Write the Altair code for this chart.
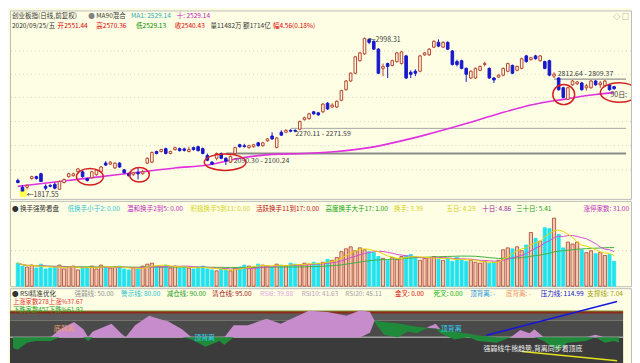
import altair as alt
import pandas as pd

# ---------------- data ----------------
opens = [1899,1847,1847,1914,1929,1951,1855,1862,1870,1832,
         1884,1929,1936,1966,1966,1914,1921,1944,1966,2033,
         2025,1996,2033,1981,1951,1944,1959,1951,2033,2040,
         2122,2122,2144,2107,2137,2144,2142,2122,2152,2159,
         2144,2092,2040,2070,2107,2070,2040,2107,2174,2166,
         2152,2159,2189,2167,2204,2241,2152,2270,2270,2285,
         2284,2293,2367,2375,2427,2419,2427,2493,2464,2464,
         2516,2597,2664,2724,2820,2872,2984,2969,2909,2761,
         2798,2783,2813,2798,2857,2731,2739,2739,2865,2865,
         2924,2961,2924,2961,2895,2813,2820,2761,2687,2687,
         2746,2791,2761,2687,2694,2709,2739,2783,2746,2761,
         2857,2828,2857,2820,2813,2820,2701,2687,2612,2523,
         2635,2642,2649,2612,2612,2664,2635,2627,2635,2620]
highs = [1914,1862,1870,1936,1936,1959,1870,1870,1884,1899,
         1914,1959,1959,1996,1974,1921,1974,1988,2011,2048,
         2048,2040,2040,1988,1959,1966,2003,1981,2078,2122,
         2129,2144,2152,2129,2159,2152,2152,2159,2159,2167,
         2152,2107,2048,2115,2115,2078,2092,2159,2181,2181,
         2174,2181,2196,2196,2226,2270,2233,2285,2293,2293,
         2293,2360,2389,2419,2434,2427,2493,2501,2493,2516,
         2597,2672,2731,2857,2887,2998.31,2995,2976,2917,2798,
         2805,2828,2887,2895,2865,2746,2754,2865,2887,2917,
         2976,2984,2969,2969,2902,2828,2828,2768,2746,2768,
         2783,2813,2768,2694,2716,2768,2805,2791,2783,2843,
         2865,2850,2865,2865,2820,2828,2731,2694,2620,2620,
         2672,2664,2657,2642,2672,2672,2664,2672,2642,2627]
lows = [1877,1817.55,1832,1907,1907,1890,1825,1847,1832,1830,
        1877,1921,1929,1959,1921,1892,1914,1936,1959,2011,
        2018,1988,1996,1951,1929,1936,1907,1944,2025,2033,
        2100,2115,2100,2100,2129,2122,2122,2115,2129,2122,
        2100,2048,2018,2055,2063,2018,2033,2100,2152,2152,
        2144,2152,2159,2159,2196,2211,2150,2241,2263,2270,
        2270,2285,2360,2367,2404,2397,2419,2441,2456,2456,
        2508,2590,2657,2716,2813,2865,2947,2902,2716,2701,
        2687,2776,2805,2791,2679,2687,2701,2731,2857,2857,
        2917,2924,2917,2902,2783,2776,2754,2657,2679,2679,
        2739,2776,2679,2649,2687,2701,2731,2716,2739,2754,
        2805,2820,2828,2813,2754,2701,2687,2590,2531,2520,
        2627,2635,2590,2590,2605,2627,2612,2620,2590,2597]
closes = [1884,1818,1862,1929,1914,1892,1840,1855,1840,1892,
          1907,1951,1951,1988,1929,1899,1966,1981,2003,2018,
          2040,2033,2003,1959,1936,1959,1951,1966,2070,2115,
          2107,2137,2107,2122,2152,2129,2131,2137,2137,2129,
          2107,2055,2025,2107,2070,2048,2085,2152,2159,2160,
          2167,2174,2167,2189,2219,2219,2226,2248,2285,2278,
          2279,2352,2382,2412,2412,2404,2486,2449,2479,2508,
          2590,2664,2724,2850,2880,2991,2961,2909,2724,2776,
          2776,2820,2880,2887,2687,2716,2724,2857,2880,2909,
          2969,2932,2961,2909,2791,2791,2761,2716,2739,2761,
          2776,2798,2687,2672,2709,2761,2798,2724,2776,2835,
          2813,2843,2835,2857,2761,2709,2716,2597,2538,2612,
          2664,2657,2597,2627,2664,2635,2649,2664,2597,2605]
volumes = [10600,9270,8830,9720,8390,10160,7950,8390,8830,9720,
           7950,8830,9270,7510,8390,8830,9270,7950,9720,8830,
           8390,8830,9270,7950,7510,8390,7950,9270,10160,10600,
           9270,8830,9720,8390,9270,8390,8830,8390,7950,8830,
           9270,7950,7510,7070,7950,7510,7070,8390,8830,9720,
           9270,8830,10160,9720,9270,8830,10160,9720,9270,10600,
           10160,9720,10600,10160,11040,10600,11040,12360,11920,13250,
           15900,17220,18110,16340,17660,16780,15900,15460,13690,12810,
           11920,13250,12360,13690,14130,14570,13250,11920,12810,13250,
           13690,12360,11920,12810,11480,13250,12360,11480,11920,11040,
           10600,11480,10600,11040,11920,16780,17660,17220,18110,16340,
           18990,24730,22080,20760,26940,26500,31350,23850,17660,20310,
           19430,20310,16780,15460,16340,15010,15460,14130,14570,11482]

ma90_idx = [0, 9, 18, 27, 34, 41, 48, 55, 62, 69, 76, 83, 88, 97, 104, 111, 118, 125, 129]
ma90_val = [1854, 1892, 1929, 1966, 1996, 2018, 2070, 2100, 2107, 2122, 2152, 2204,
            2248, 2337, 2412, 2479, 2523, 2560, 2575]

level_start = [45, 59, 116]
level_price = [2107, 2300, 2679]
level_text = ["2090.30 - 2100.24", "2270.11 - 2271.59", "2812.64 - 2809.37"]

grid_prices = [2895, 2716, 2538, 2352, 2167, 1981]

rsi_idx = [0, 1, 3, 5, 8, 10, 13, 15, 16, 17, 21, 23, 24, 26, 29, 31, 33, 36, 38, 41,
           44, 45, 47, 50, 54, 57, 63, 67, 71, 74, 76, 77, 79, 82, 84, 86, 88, 90, 91, 94,
           97, 99, 103, 106, 108, 110, 111, 113, 116, 118, 122, 124, 126, 128, 129]
rsi_fast = [30, 26.8, 39.9, 42.8, 42.8, 64.5, 77.6, 64.5, 42.8, 60.2, 74.7, 57.3, 50, 71.8,
            89.2, 83.4, 79, 64.5, 45.7, 32.6, 42.8, 35.5, 71.8, 71.8, 83.4, 74.7, 98, 96,
            89.2, 99, 96, 77.6, 54.4, 50, 60.2, 57.3, 66, 74.7, 57.3, 45.7, 50, 42.8, 39.9,
            50, 63, 57.3, 64.5, 42.8, 25.4, 39.9, 42.8, 54.4, 39.9, 42.8, 39.88]
rsi_base = [50] * 30 + [58, 80, 77.6, 75, 72, 69, 67, 66, 64, 60, 56, 53, 50] + [50] * 12

# ---------------- texts ----------------
main_line1 = ["创业板指(日线,前复权)", "●", "MA90混合", "MA1: 2529.14", "十: 2529.14"]
main_line2 = ["2020/09/25/五", "开2551.44", "高2570.36", "低2529.13", "收2540.43",
              "量11482万", "额1714亿", "幅4.56(0.18%)"]
vol_header = ["● 换手强势看盘", "低换手小于2: 0.00", "温和换手2到5: 0.00", "积极换手5到11: 0.00",
              "活跃换手11到17: 0.00", "高度换手大于17: 1.00", "换手: 3.39", "五日: 4.29",
              "十日: 4.86", "三十日: 5.41", "涨停家数: 31.00"]
rsi_header = ["● RSI精准优化", "强弱线: 50.00", "警示线: 80.00", "减仓线: 90.00", "清仓线: 95.00",
              "RSI6: 39.88", "RSI10: 41.63", "RSI20: 45.11", "金叉: 0.00", "死叉: 0.00",
              "顶背离: -", "底背离: -", "压力线: 114.99", "支撑线: 7.04"]
breadth_up = "上涨家数278上涨%37.67"
breadth_down = "下跌家数457下跌%61.92"

# ---------------- layout & style ----------------
FONT = "Noto Sans CJK SC"
BG = "#FEFEE4"
UP = "#B8452F"
DOWN = "#1818CC"
W = 626
H_MAIN, H_VOL, H_RSI = 190, 86, 76
XD = [-0.632, 131.58]
xsc = alt.Scale(domain=XD, nice=False, zero=False)
psc = alt.Scale(domain=[1757.8, 3206.6], nice=False, zero=False)
vsc = alt.Scale(domain=[0, 39300], nice=False, zero=False)
rsc = alt.Scale(domain=[1.74, 139.4], nice=False, zero=False)


def X(f):
    return alt.X(f, type="quantitative", scale=xsc, axis=None)


def Y(f, s):
    return alt.Y(f, type="quantitative", scale=s, axis=None)


def header(texts, xs, colors, y, size=6.6):
    d = pd.DataFrame({"t": texts, "px": xs, "c": colors})
    return alt.Chart(d).mark_text(align="left", baseline="middle", font=FONT, fontSize=size).encode(
        x=alt.X("px:Q", scale=None), y=alt.value(y), text="t:N", color=alt.Color("c:N", scale=None))


def ellipse_path(r):
    k = 0.5523
    return (f"M-1,0C-1,{-k*r:.3f} {-k:.3f},{-r:.3f} 0,{-r:.3f}"
            f"C{k:.3f},{-r:.3f} 1,{-k*r:.3f} 1,0"
            f"C1,{k*r:.3f} {k:.3f},{r:.3f} 0,{r:.3f}"
            f"C{-k:.3f},{r:.3f} -1,{k*r:.3f} -1,0Z")


df = pd.DataFrame({"idx": list(range(len(opens))), "open": opens, "high": highs,
                   "low": lows, "close": closes, "vol": volumes})
df["dir"] = ["up" if c >= o else "down" for o, c in zip(opens, closes)]

dir_dom = ["up", "down"]

# ---------------- main panel ----------------
grid = alt.Chart(pd.DataFrame({"p": grid_prices})).mark_rule(
    color="#D2D2C0", strokeDash=[1, 3], strokeWidth=1).encode(y=Y("p", psc))

level_styles = [("#8A8A8A", 2.0), ("#A4A4A4", 1.0), ("#939393", 1.2)]
levels = []
for s, p, (c, w) in zip(level_start, level_price, level_styles):
    levels.append(alt.Chart(pd.DataFrame({"s": [s], "e": [XD[1]], "p": [p]})).mark_rule(
        color=c, strokeWidth=w).encode(x=X("s"), x2="e", y=Y("p", psc)))

ma = alt.Chart(pd.DataFrame({"idx": ma90_idx, "v": ma90_val})).mark_line(
    color="#E030E0", strokeWidth=1.6, interpolate="monotone").encode(x=X("idx"), y=Y("v", psc))

hl = alt.Chart(pd.DataFrame({"x0": [0.4], "x1": [1.9], "p0": [1773], "p1": [1832]})).mark_rect(
    color="#FFFF33", opacity=0.85).encode(x=X("x0"), x2="x1", y=Y("p0", psc), y2="p1")

wicks = alt.Chart(df).mark_rule(strokeWidth=1).encode(
    x=X("idx"), y=Y("low", psc), y2="high",
    color=alt.Color("dir:N", scale=alt.Scale(domain=dir_dom, range=[UP, DOWN]), legend=None))

bodies = alt.Chart(df).mark_bar(size=2.6, strokeWidth=1).encode(
    x=X("idx"), y=Y("open", psc), y2="close",
    fill=alt.Fill("dir:N", scale=alt.Scale(domain=dir_dom, range=[BG, DOWN]), legend=None),
    stroke=alt.Stroke("dir:N", scale=alt.Scale(domain=dir_dom, range=[UP, DOWN]), legend=None))

lab_idx = [46.7, 60.0, 116.8, 75.9, 1.9, 128.2]
lab_price = [2047, 2256, 2716, 2976, 1787, 2560]
lab_text = level_text + ["←2998.31", "←1817.55", "90日:"]
labels = alt.Chart(pd.DataFrame({"i": lab_idx, "p": lab_price, "t": lab_text})).mark_text(
    align="left", baseline="middle", font=FONT, fontSize=7, color="#3A3A3A", clip=True).encode(
    x=X("i"), y=Y("p", psc), text="t:N")

ell_idx = [15.58, 26.3, 44.84, 118.1, 130.1]
ell_price = [1928.6, 1943.5, 2040.1, 2560.2, 2575.1]
ell_rx = [13.5, 10, 21, 11, 19]
ell_ry = [8.3, 7.3, 8.3, 10.2, 9.8]
ellipses = []
for i, p, rx, ry in zip(ell_idx, ell_price, ell_rx, ell_ry):
    ellipses.append(alt.Chart(pd.DataFrame({"i": [i], "p": [p]})).mark_point(
        shape=ellipse_path(ry / rx), size=(2 * rx) ** 2, filled=False, color="#D42020",
        strokeWidth=1.5, opacity=1, clip=True).encode(x=X("i"), y=Y("p", psc)))

h1 = header(main_line1, [2, 79, 87, 122, 168], ["#333333", "#808080", "#333333", "#2AAAB0", "#C020C0"], 5.8)
h2 = header(main_line2, [2, 48, 87, 127, 166, 202, 235, 265],
            ["#333333", "#E00000", "#E00000", "#008800", "#E00000", "#333333", "#333333", "#E00000"], 15.6)
icons = header(["◇", "□"], [608, 617], ["#777777", "#777777"], 6.5, 7)

main = alt.layer(grid, *levels, ma, hl, wicks, bodies, labels, *ellipses, h1, h2, icons).properties(
    width=W, height=H_MAIN)

# ---------------- volume panel ----------------
vgrid = alt.Chart(pd.DataFrame({"v": [16340]})).mark_rule(
    color="#CFCFBE", strokeDash=[1, 3]).encode(y=Y("v", vsc))
vbars = alt.Chart(df).mark_bar(size=3.2, strokeWidth=0.8).encode(
    x=X("idx"), y=Y("vol", vsc),
    fill=alt.Fill("dir:N", scale=alt.Scale(domain=dir_dom, range=["#F6C9B3", "#22E2EE"]), legend=None),
    stroke=alt.Stroke("dir:N", scale=alt.Scale(domain=dir_dom, range=["#A8402C", "#22E2EE"]), legend=None))


def vma(n, color):
    return alt.Chart(df).transform_window(
        m="mean(vol)", frame=[-(n - 1), 0], sort=[{"field": "idx"}]).mark_line(
        color=color, strokeWidth=1).encode(x=X("idx"), y=Y("m", vsc))


vh = header(vol_header, [2, 58, 118, 182, 248, 318, 387, 440, 476, 510, 578],
            ["#333333", "#30C4D4", "#C030C0", "#D4D420", "#C01010", "#10A010", "#D8D020",
             "#D8D020", "#A020A0", "#20A020", "#C030C0"], 7.7)
vol = alt.layer(vgrid, vbars, vma(30, "#40B040"), vma(10, "#D050D0"), vma(5, "#E6D600"), vh).properties(
    width=W, height=H_VOL)

# ---------------- RSI panel ----------------
bands = pd.DataFrame({"x0": [XD[0]] * 3, "x1": [129.9] * 3, "v0": [95, 80, 50], "v1": [80, 50, 1.74],
                      "c": ["#5B5B5B", "#4A4A4A", "#3B3B3B"]})
rbg = alt.Chart(bands).mark_rect().encode(
    x=X("x0"), x2="x1", y=Y("v0", rsc), y2="v1", color=alt.Color("c:N", scale=None))


def hline(v, color, w):
    return alt.Chart(pd.DataFrame({"x0": [XD[0]], "x1": [129.9], "v": [v]})).mark_rule(
        color=color, strokeWidth=w).encode(x=X("x0"), x2="x1", y=Y("v", rsc))


rdf = pd.DataFrame({"idx": rsi_idx, "a": rsi_fast, "b": rsi_base})
lav = alt.Chart(rdf).transform_calculate(top="max(datum.a, datum.b)").mark_area(
    color="#C68CCB", opacity=1).encode(x=X("idx"), y=Y("top:Q", rsc), y2="b")
grn = alt.Chart(rdf).transform_calculate(bot="min(datum.a, datum.b)").mark_area(
    color="#1F8A3A", opacity=1).encode(x=X("idx"), y=Y("b", rsc), y2="bot:Q")

press = alt.Chart(pd.DataFrame({"i": [100.8, 128.6], "v": [53.5, 114.99]})).mark_line(
    color="#1414E0", strokeWidth=1.5).encode(x=X("i"), y=Y("v", rsc))
supp = alt.Chart(pd.DataFrame({"i": [108.4, 128.6], "v": [24, 7.04]})).mark_line(
    color="#E4E020", strokeWidth=1.5).encode(x=X("i"), y=Y("v", rsc))

ann = pd.DataFrame({"i": [10.9, 40.8, 93.3, 110.7], "v": [64.5, 48.8, 64.5, 27.9],
                    "t": ["底背离", "顶背离", "顶背离", "强弱线牛熊趋势,背离同步看顶底"],
                    "c": ["#F0A070", "#30D0F0", "#30D0F0", "#F2F2F2"]})
rann = alt.Chart(ann).mark_text(align="center", baseline="middle", font=FONT, fontSize=7).encode(
    x=X("i"), y=Y("v", rsc), text="t:N", color=alt.Color("c:N", scale=None))

rh = header(rsi_header, [2, 65, 112, 158, 204, 252, 294, 338, 388, 427, 464, 500, 535, 582],
            ["#333333", "#909090", "#20C0D0", "#20A020", "#A01010", "#E0A8E0", "#B8A0B8", "#A0A0A0",
             "#E00000", "#00B000", "#2090E0", "#F09060", "#1010D0", "#A0A000"], 5.8)
bu = header([breadth_up], [3], ["#E03030"], 13.8, 6.4)
bd = header([breadth_down], [3], ["#20A020"], 21.6, 6.4)

rsi = alt.layer(rbg, hline(97.5, "#7C8B2B", 1.5), hline(95, "#8C2B1C", 2), hline(50, "#A0A0A0", 1.5),
                lav, grn, press, supp, rann, rh, bu, bd).properties(width=W, height=H_RSI)

chart = alt.vconcat(main, vol, rsi, spacing=0).resolve_scale(
    fill="independent", stroke="independent", color="independent").properties(padding=0).configure(
    background=BG).configure_view(stroke="#BCBCBC", strokeWidth=1).configure_text(font=FONT)

chart.save("out.html", embed_options={"renderer": "svg", "actions": False})
